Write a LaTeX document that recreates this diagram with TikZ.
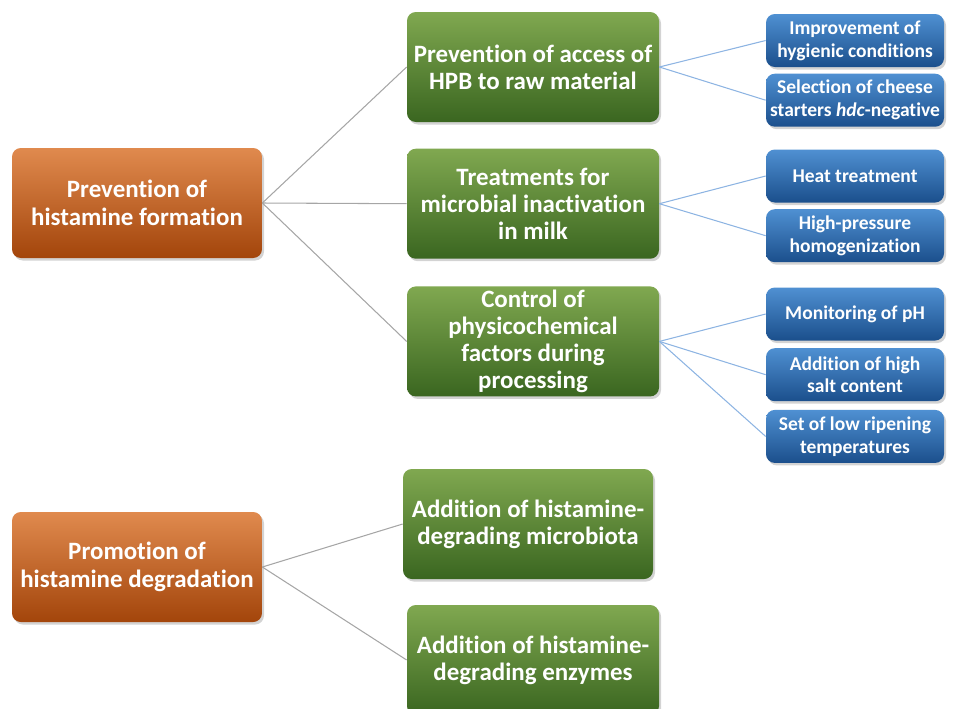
\documentclass[tikz,border=0pt]{standalone}
\usepackage{fontspec}
\setmainfont{Carlito}[Ligatures=NoCommon]
\usepackage{tikz}
\usetikzlibrary{%
  positioning,%
  shadows%
}
\definecolor{ortop}{HTML}{E08A4E}
\definecolor{orbot}{HTML}{A3450B}
\definecolor{grtop}{HTML}{80A850}
\definecolor{grbot}{HTML}{3A6620}
\definecolor{bltop}{HTML}{4F90D2}
\definecolor{blbot}{HTML}{1B4F8C}
\definecolor{greyline}{HTML}{A6A6A6}
\definecolor{blueline}{HTML}{8DB4E2}

\begin{document}
\begin{tikzpicture}[
    box/.style={rounded corners=5pt, align=center, text=white, inner sep=1pt,
    drop shadow={opacity=0.35, shadow xshift=0.04cm, shadow yshift=-0.05cm}},
    goal/.style={box, top color=ortop, bottom color=orbot, minimum width=5cm,
    minimum height=2.2cm, font=\bfseries\fontsize{14.2}{16}\selectfont},
    means/.style={box, top color=grtop, bottom color=grbot, minimum width=5.04cm,
    minimum height=2.2cm, font=\bfseries\fontsize{14.2}{15.4}\selectfont},
    action/.style={box, top color=bltop, bottom color=blbot, minimum width=3.56cm,
    minimum height=1.06cm, font=\bfseries\fontsize{11.1}{13}\selectfont},
    greylink/.style={draw=greyline, line width=0.6pt},
    bluelink/.style={draw=blueline, line width=0.6pt}
]
    \clip (0,0) rectangle (19.16,-14.16);
    % left column
    \node[goal] (form) at (2.74,-4.06) {Prevention of\\histamine formation};
    \node[goal] (degr) at (2.74,-11.34) {Promotion of\\histamine degradation};
    % middle column
    \node[means] (access) at (10.66,-1.34) {Prevention of access of\\HPB to raw material};
    \node[means, below=0.52cm of access] (treat) {Treatments for\\microbial inactivation\\in milk};
    \node[means, below=0.54cm of treat] (ctrl) {Control of\\physicochemical\\factors during\\processing};
    \node[means, minimum width=5cm] (micro) at (10.56,-10.48) {Addition of histamine-\\degrading microbiota};
    \node[means] (enz) at (10.66,-13.2) {Addition of histamine-\\degrading enzymes};
    % right column
    \node[action] (hyg) at (17.1,-0.81) {Improvement of\\hygienic conditions};
    \node[action, below=0.12cm of hyg] (start) {Selection of cheese\\starters \textit{hdc}-negative};
    \node[action] (heat) at (17.1,-3.52) {Heat treatment};
    \node[action, below=0.12cm of heat] (hph) {High-pressure\\homogenization};
    \node[action] (ph) at (17.1,-6.28) {Monitoring of pH};
    \node[action, below=0.14cm of ph] (salt) {Addition of high\\salt content};
    \node[action, below=0.16cm of salt] (temp) {Set of low ripening\\temperatures};
    % connectors
    \path[greylink] (form.east) -- (access.west);
    \path[greylink] (form.east) -- (treat.west);
    \path[greylink] (form.east) -- (ctrl.west);
    \path[greylink] (degr.east) -- (micro.west);
    \path[greylink] (degr.east) -- (enz.west);
    \path[bluelink] (access.east) -- (hyg.west);
    \path[bluelink] (access.east) -- (start.west);
    \path[bluelink] (treat.east) -- (heat.west);
    \path[bluelink] (treat.east) -- (hph.west);
    \path[bluelink] (ctrl.east) -- (ph.west);
    \path[bluelink] (ctrl.east) -- (salt.west);
    \path[bluelink] (ctrl.east) -- (temp.west);
\end{tikzpicture}
\end{document}
